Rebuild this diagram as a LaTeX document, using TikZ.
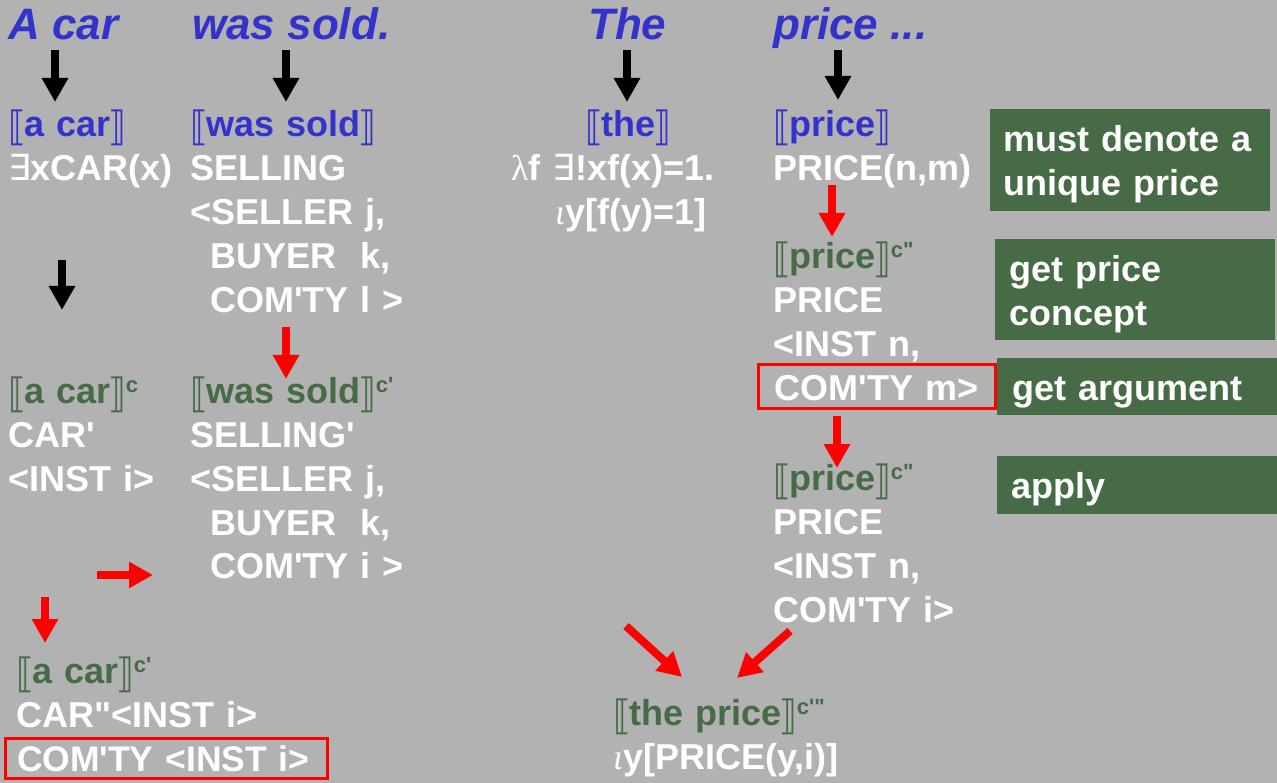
\documentclass[tikz,border=0pt]{standalone}
\usepackage{fontspec}
\newfontfamily\arialfont{Liberation Sans}
\newfontfamily\bracketfont{DejaVu Sans}
\newfontfamily\greekfont{Liberation Serif}
\usepackage{xcolor}
\usepackage{graphicx}
\definecolor{BGCOLOR}{HTML}{B2B2B2}
\definecolor{HEADCOLOR}{HTML}{3333CC}
\definecolor{CONCEPTCOLOR}{HTML}{466B46}
\colorlet{STEPCOLOR}{red}
\usepackage{tikz}
\usetikzlibrary{arrows.meta,positioning}
\newcommand\den[1]{\raisebox{-4pt}{\scalebox{1}[1.12]{\bracketfont\mdseries ⟦}}\kern-2pt#1\kern-2pt\raisebox{-4pt}{\scalebox{1}[1.12]{\bracketfont\mdseries ⟧}}}
\newcommand\cpt[1]{\raisebox{11pt}{\fontsize{22}{22}\selectfont #1}}
\newcommand\exsym{{\bracketfont\mdseries ∃}}
\tikzset{
  basic-style/.style = {
    inner sep=0pt, anchor=base west, align=left,
    text width=#1, text=white,
    font=\arialfont\bfseries\fontsize{36}{44}\selectfont
  },
  basic-style/.default = 400pt,
  head-style/.style = {
    inner sep=0pt, anchor=base west, text=HEADCOLOR,
    font=\arialfont\bfseries\itshape\fontsize{44}{44}\selectfont
  },
  note-style/.style = {
    basic-style=#1, anchor=north west, fill=CONCEPTCOLOR,
    inner xsep=13pt, text height=42pt
  },
  mark-style/.style = {
    basic-style=#1, draw=STEPCOLOR, line width=3pt, text depth=7.5pt
  },
  arrow-style/.style = {
    line width=8pt, draw=#1, -{Triangle[width=25pt,length=24pt,fill=#1]}
  }
}

\begin{document}
\begin{tikzpicture}[x=1pt,y=-1pt]
    \fill[BGCOLOR] (0,0) rectangle (1277,783);
    \useasboundingbox (0,0) rectangle (1277,783);

    %%% sentence
    \node[head-style] (hCar) at (8,40) {A car};
    \node[head-style] (hSold) at (192,40) {was sold.};
    \node[head-style] (hThe) at (588,40) {The};
    \node[head-style] (hPrice) at (773,40) {price ...};

    %%% denotations
    \node[basic-style] (carSem) at (8,137) {\textcolor{HEADCOLOR}{\den{a car}}\\\exsym xCAR(x)};
    \node[basic-style] (soldSem) at (190,137) {\textcolor{HEADCOLOR}{\den{was sold}}\\SELLING\\<SELLER j,\\\hspace*{20pt}BUYER\ \ k,\\\hspace*{20pt}COM'TY l >};
    \node[basic-style] (theSem) at (511,137) {\hspace*{74pt}\textcolor{HEADCOLOR}{\den{the}}\\{\greekfont\mdseries λ}f \exsym!xf(x)=1.\\\hspace*{44pt}{\greekfont\mdseries\itshape ι}y[f(y)=1]};
    \node[basic-style] (priceSem) at (773,137) {\textcolor{HEADCOLOR}{\den{price}}\\PRICE(n,m)};

    %%% concepts
    \node[basic-style] (carC) at (8,403) {\textcolor{CONCEPTCOLOR}{\den{a car}\cpt{c}}\\CAR'\\<INST i>};
    \node[basic-style] (soldC) at (190,403) {\textcolor{CONCEPTCOLOR}{\den{was sold}\cpt{c'}}\\SELLING'\\<SELLER j,\\\hspace*{20pt}BUYER\ \ k,\\\hspace*{20pt}COM'TY i >};
    \node[basic-style] (priceC) at (773,269) {\textcolor{CONCEPTCOLOR}{\den{price}\cpt{c"}}\\PRICE\\<INST n,};
    \node[mark-style=204pt, inner xsep=16.5pt, text height=36.5pt] (comtyM) at (756.5,401) {COM'TY m>};
    \node[basic-style] (priceCC) at (773,490) {\textcolor{CONCEPTCOLOR}{\den{price}\cpt{c"}}\\PRICE\\<INST n,\\COM'TY i>};
    \node[basic-style] (carCC) at (16,683) {\textcolor{CONCEPTCOLOR}{\den{a car}\cpt{c'}}\\CAR"<INST i>};
    \node[mark-style=298pt, inner xsep=12pt, text height=32.5pt,
      font=\arialfont\bfseries\fontsize{35.5}{44}\selectfont] (comtyI) at (3.5,771) {COM'TY <INST i>};
    \node[basic-style] (thePrice) at (613,725) {\textcolor{CONCEPTCOLOR}{\den{the price}\cpt{c'"}}\\{\greekfont\mdseries\itshape ι}y[PRICE(y,i)]};

    %%% notes
    \node[note-style=254pt, text depth=60pt] (noteUnique) at (990,109) {must denote a\\unique price};
    \node[note-style=252pt, inner xsep=14pt, text depth=59pt] (noteConcept) at (995,239) {get price\\concept};
    \node[note-style=250pt, inner xsep=15pt, text depth=15pt] (noteArg) at (997,358) {get argument};
    \node[note-style=252pt, inner xsep=14pt, text depth=16pt] (noteApply) at (997,456) {apply};

    %%% arrow ends
    \coordinate (carTop) at (55,50);     \coordinate (carBot) at (55,102);
    \coordinate (soldTop) at (286,50);   \coordinate (soldBot) at (286,102);
    \coordinate (theTop) at (627,50);    \coordinate (theBot) at (627,102);
    \coordinate (priceTop) at (838,50);  \coordinate (priceBot) at (838,100);
    \coordinate (carMidTop) at (62,260); \coordinate (carMidBot) at (62,310);
    \coordinate (soldMidTop) at (286,327); \coordinate (soldMidBot) at (286,379);
    \coordinate (carRight) at (97,575);  \coordinate (soldLeft) at (153,575);
    \coordinate (carLowTop) at (45,597); \coordinate (carLowBot) at (45,643);
    \coordinate (priceMidTop) at (832,185); \coordinate (priceMidBot) at (832,237);
    \coordinate (priceLowTop) at (837,416); \coordinate (priceLowBot) at (837,468);
    \coordinate (theDiag) at (626,626);  \coordinate (theEnd) at (682,677);
    \coordinate (priceDiag) at (790,631); \coordinate (priceEnd) at (737,678);

    %%% arrows
    \draw[arrow-style=black] (carTop) -- (carBot);
    \draw[arrow-style=black] (soldTop) -- (soldBot);
    \draw[arrow-style=black] (theTop) -- (theBot);
    \draw[arrow-style=black] (priceTop) -- (priceBot);
    \draw[arrow-style=black] (carMidTop) -- (carMidBot);
    \draw[arrow-style=STEPCOLOR] (soldMidTop) -- (soldMidBot);
    \draw[arrow-style=STEPCOLOR] (carRight) -- (soldLeft);
    \draw[arrow-style=STEPCOLOR] (carLowTop) -- (carLowBot);
    \draw[arrow-style=STEPCOLOR] (priceMidTop) -- (priceMidBot);
    \draw[arrow-style=STEPCOLOR] (priceLowTop) -- (priceLowBot);
    \draw[arrow-style=STEPCOLOR] (theDiag) -- (theEnd);
    \draw[arrow-style=STEPCOLOR] (priceDiag) -- (priceEnd);
\end{tikzpicture}
\end{document}
